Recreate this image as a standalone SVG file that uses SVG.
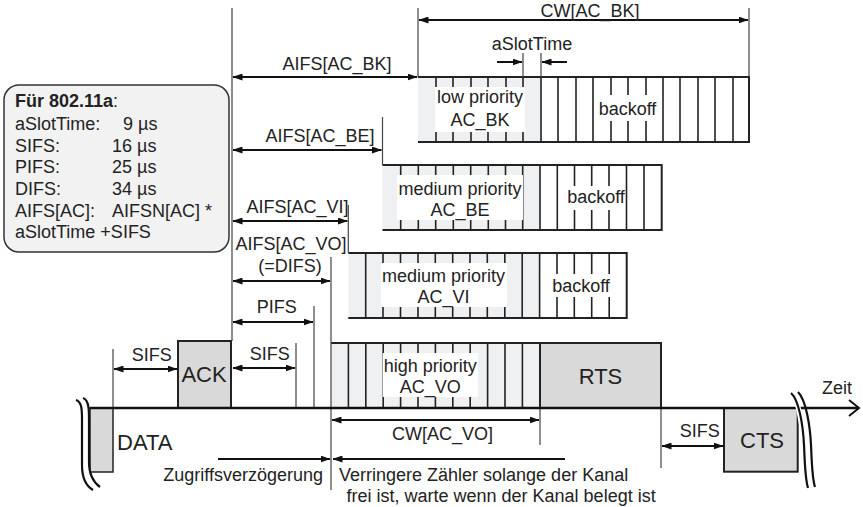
<svg xmlns="http://www.w3.org/2000/svg" width="863" height="507" viewBox="0 0 863 507">
<defs>
<marker id="ah" viewBox="0 0 10 7" markerWidth="10" markerHeight="7" refX="9.5" refY="3.5" orient="auto-start-reverse" markerUnits="userSpaceOnUse">
<path d="M0,0 L10,3.5 L0,7 z" fill="#111"/>
</marker>
<style>
.t{font-family:"Liberation Sans",Arial,sans-serif;font-size:18px;fill:#222}
.tl{font-family:"Liberation Sans",Arial,sans-serif;font-size:22px;fill:#222}
.c{text-anchor:middle}
.vl{stroke:#444;stroke-width:1.2;fill:none}
.sl{stroke:#222;stroke-width:1.6;fill:none}
.bx{stroke:#222;stroke-width:2;fill:none}
.gr{fill:#eef0f2}
.wb{fill:#fff}
.ar{stroke:#111;stroke-width:2;fill:none;marker-start:url(#ah);marker-end:url(#ah)}
.a1{stroke:#111;stroke-width:2;fill:none;marker-end:url(#ah)}
.box{fill:#d9d9d9;stroke:#222;stroke-width:2}
.brk{stroke:#111;stroke-width:2.2;fill:none}
</style>
</defs>
<rect width="863" height="507" fill="#fff"/>

<g id="info">
<rect x="4" y="85" width="225" height="167" rx="15" fill="#f2f2f2" stroke="#333" stroke-width="1.5"/>
<text class="t" x="15" y="107"><tspan font-weight="bold">Für 802.11a</tspan>:</text>
<text class="t" x="15" y="130">aSlotTime:</text><text class="t" x="123" y="130">9 µs</text>
<text class="t" x="15" y="152">SIFS:</text><text class="t" x="112" y="152">16 µs</text>
<text class="t" x="15" y="173">PIFS:</text><text class="t" x="112" y="173">25 µs</text>
<text class="t" x="15" y="195">DIFS:</text><text class="t" x="112" y="195">34 µs</text>
<text class="t" x="15" y="217">AIFS[AC]:</text><text class="t" x="112" y="217">AIFSN[AC] *</text>
<text class="t" x="15" y="238">aSlotTime +SIFS</text>
</g>

<g id="ac_bk">
<rect class="gr" x="418" y="77" width="123" height="65"/>
<path class="sl" d="M436 77V142M453 77V142M471 77V142M488 77V142M506 77V142M523 77V142M541 77V142M558 77V142M576 77V142M593 77V142M611 77V142M628 77V142M646 77V142M663 77V142M680 77V142M698 77V142M715 77V142M733 77V142"/>
<path class="bx" d="M418 77H749V142H418"/>
<rect class="wb" x="435" y="87" width="90" height="45"/>
<text class="t c" x="480" y="103">low priority</text>
<text class="t c" x="480" y="126">AC_BK</text>
<rect class="wb" x="598" y="95" width="59" height="26"/>
<text class="t c" x="627.5" y="115">backoff</text>
</g>

<g id="ac_be">
<rect class="gr" x="382.5" y="165" width="157.5" height="65"/>
<path class="sl" d="M400.7 165V230M418.3 165V230M435.7 165V230M453.3 165V230M470.7 165V230M488.3 165V230M505.5 165V230M522.7 165V230M540 165V230M557.3 165V230M574.5 165V230M591.7 165V230M609 165V230M626.5 165V230M644 165V230"/>
<path class="bx" d="M382.5 165H661.7V230H382.5"/>
<rect class="wb" x="397" y="175" width="126" height="45"/>
<text class="t c" x="460" y="195">medium priority</text>
<text class="t c" x="460" y="216">AC_BE</text>
<rect class="wb" x="566.5" y="186" width="58.5" height="24"/>
<text class="t c" x="596" y="203">backoff</text>
</g>

<g id="ac_vi">
<rect class="gr" x="348.3" y="253" width="191.3" height="65"/>
<path class="sl" d="M365.7 253V318M383 253V318M400.5 253V318M418 253V318M435.3 253V318M452.7 253V318M470 253V318M487.3 253V318M504.8 253V318M522.2 253V318M539.6 253V318M557 253V318M574.3 253V318M591.7 253V318M609.2 253V318"/>
<path class="bx" d="M348.3 253H626.7V318H348.3"/>
<rect class="wb" x="381" y="263" width="126" height="44"/>
<text class="t c" x="443.5" y="282">medium priority</text>
<text class="t c" x="443.5" y="303">AC_VI</text>
<rect class="wb" x="551.5" y="274" width="58.5" height="23"/>
<text class="t c" x="581" y="292">backoff</text>
</g>

<g id="ac_vo">
<rect class="gr" x="331" y="343" width="209" height="65"/>
<path class="sl" d="M348.4 343V408M365.8 343V408M383.2 343V408M400.6 343V408M418 343V408M435.4 343V408M452.8 343V408M470.2 343V408M487.6 343V408M505 343V408M522.4 343V408"/>
<path class="bx" d="M331 343H540"/>
<rect class="wb" x="382.7" y="353" width="95.3" height="44"/>
<text class="t c" x="430.3" y="372">high priority</text>
<text class="t c" x="430.3" y="393">AC_VO</text>
</g>

<g id="rts">
<rect class="box" x="540" y="343" width="121" height="65"/>
<text class="tl c" x="600.5" y="384">RTS</text>
</g>

<g id="ack">
<rect class="box" x="178" y="341" width="53" height="67"/>
<text class="tl c" x="204" y="382">ACK</text>
</g>

<g id="data">
<rect x="90" y="408" width="23" height="64" fill="#d9d9d9" stroke="#222" stroke-width="1.5"/>
<text class="tl" x="117" y="450">DATA</text>
</g>

<g id="cts">
<rect class="box" x="724" y="408" width="73.7" height="63.7"/>
<text class="tl c" x="762" y="448">CTS</text>
</g>

<g id="connectors">
<path class="vl" d="M232 8V341M113 349V408M296 343V408M314 306V408M331 257V490M348.3 205V253M382.5 117V165M418 8V77M749 8V77M523 53V77M541 53V77M540 408V445M661 408V468"/>
<path d="M90 408H858" stroke="#111" stroke-width="2.4"/>
<path d="M849 400L859 408L849 416" stroke="#111" stroke-width="2" fill="none"/>
<path class="ar" d="M419 20H748"/>
<path class="a1" d="M497 62H522"/>
<path class="a1" d="M567 62H542"/>
<path class="ar" d="M233 77H417"/>
<path class="ar" d="M233 150H381.5"/>
<path class="ar" d="M233 221H347.3"/>
<path class="ar" d="M233 281H330"/>
<path class="ar" d="M233 322H313"/>
<path class="ar" d="M233 368H295"/>
<path class="ar" d="M114 369H177"/>
<path class="ar" d="M332 420H539"/>
<path class="ar" d="M662 446H723"/>
<path class="a1" d="M218 459H330"/>
<path class="a1" d="M565 459H333"/>
</g>

<g id="breaks">
<path class="brk" d="M76 400C82 402 82 410 82 420V465C82 478 86 486 93 490"/>
<path class="brk" d="M83 398C89 400 89 410 89 420V462C89 474 93 482 100 487"/>
<path d="M794 393C800 410 805 440 805 470C805 480 806 485 808 488" stroke="#fff" stroke-width="5" fill="none"/>
<path class="brk" d="M791 393C799 400 803 425 804 445C805 465 805 478 808 488"/>
<path class="brk" d="M798 392C806 400 810 425 811 445C812 465 812 478 815 487"/>
</g>

<g id="labels">
<text class="t c" x="590" y="17">CW[AC_BK]</text>
<text class="t c" x="532" y="50">aSlotTime</text>
<text class="t c" x="337" y="70">AIFS[AC_BK]</text>
<text class="t c" x="320" y="142">AIFS[AC_BE]</text>
<text class="t c" x="297.5" y="213">AIFS[AC_VI]</text>
<text class="t c" x="291" y="250">AIFS[AC_VO]</text>
<text class="t c" x="290" y="272">(=DIFS)</text>
<text class="t c" x="276.7" y="313">PIFS</text>
<text class="t c" x="269.7" y="360">SIFS</text>
<text class="t c" x="151.7" y="361">SIFS</text>
<text class="t c" x="442.5" y="440">CW[AC_VO]</text>
<text class="t c" x="699.7" y="437">SIFS</text>
<text class="t" x="822" y="394">Zeit</text>
<text class="t" x="323" y="481" text-anchor="end">Zugriffsverzögerung</text>
<text class="t" x="339" y="481">Verringere Zähler solange der Kanal</text>
<text class="t" x="346.5" y="502">frei ist, warte wenn der Kanal belegt ist</text>
</g>
</svg>
